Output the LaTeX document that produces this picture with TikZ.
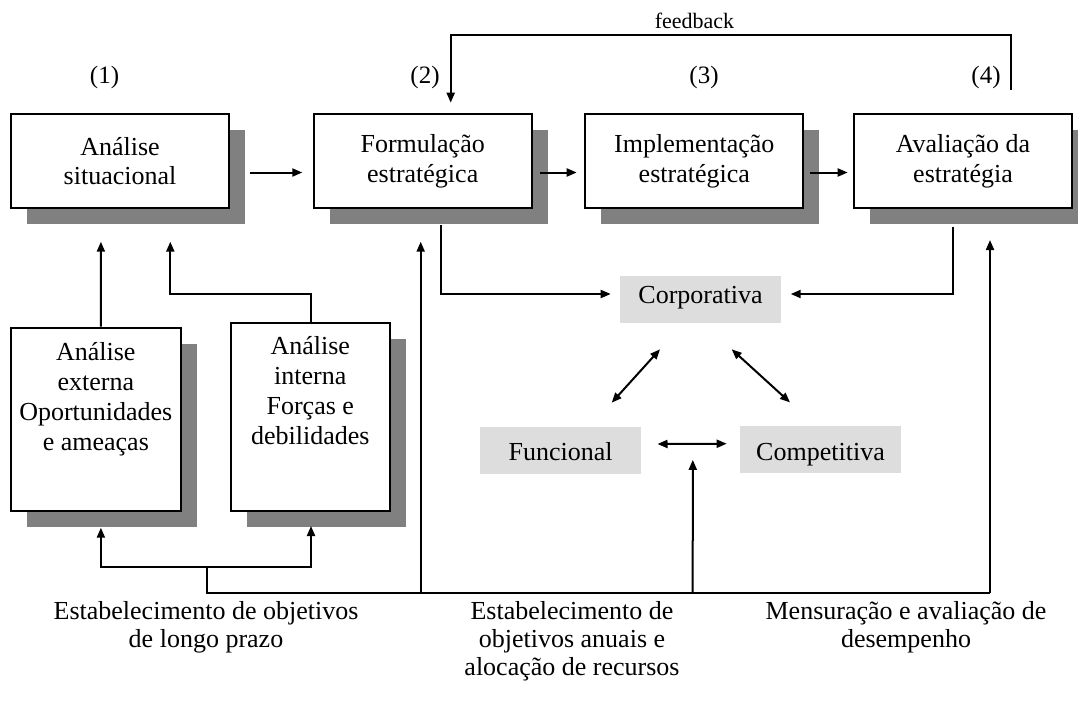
\documentclass[tikz,border=0pt]{standalone}
\usepackage{fontspec}
\setmainfont{Liberation Serif}
\usetikzlibrary{arrows.meta,shadows,calc}
\definecolor{shadowgray}{HTML}{808080}
\definecolor{lightbox}{HTML}{DDDDDD}
\begin{document}
\begin{tikzpicture}[x=1pt,y=-1pt,
  box/.style={draw, line width=2pt, fill=white, inner sep=0pt, align=center,
    font=\fontsize{26}{29.5}\selectfont,
    general shadow={fill=shadowgray, shadow xshift=16pt, shadow yshift=-16pt}},
  mainbox/.style={box, minimum width=218pt, minimum height=94pt},
  gbox/.style={fill=lightbox, inner sep=0pt, minimum width=161pt, minimum height=47pt,
    font=\fontsize{26}{29.5}\selectfont},
  gtop/.style={gbox, text height=17pt, text depth=9.8pt},
  glow/.style={gbox, text height=27pt, text depth=5.6pt},
  txt/.style={inner sep=0pt, align=center, font=\fontsize{26}{30}\selectfont},
  lbl/.style={inner sep=0pt, align=center, font=\fontsize{25}{28}\selectfont},
  arr/.style={line width=2pt, -{Triangle[length=10pt,width=8pt]}},
  dbl/.style={line width=2pt, {Triangle[length=10pt,width=8pt]}-{Triangle[length=10pt,width=8pt]}},
  ln/.style={line width=2pt}]
\useasboundingbox (0,0) rectangle (1078,705);
\clip (0,0) rectangle (1078,705);

% main boxes
\node[mainbox] (b1) at (120,161.2) {Análise\\situacional};
\node[mainbox] (b2) at (422.7,161.2) {Formulação\\estratégica};
\node[mainbox] (b3) at (694.3,161.2) {Implementação\\estratégica};
\node[mainbox] (b4) at (963,161.2) {Avaliação da\\estratégia};

% lower boxes
\node[box, minimum width=169.7pt, minimum height=183pt] (bA) at (95.8,419.2) {};
\node[txt] (tA) at (95.8,399) {Análise\\externa\\Oportunidades\\e ameaças};
\node[box, minimum width=158.7pt, minimum height=188pt] (bB) at (310.3,416.7) {};
\node[txt] (tB) at (310.3,391) {Análise\\interna\\Forças e\\debilidades};

% grey boxes
\node[gtop] (corp) at (700.5,299.7) {Corporativa};
\node[glow] (fun) at (560.7,450) {Funcional};
\node[glow] (comp) at (820.5,449.7) {Competitiva};

% labels
\node[lbl] (l1) at (104.5,77) {(1)};
\node[lbl] (l2) at (425,77) {(2)};
\node[lbl] (l3) at (704,77) {(3)};
\node[lbl] (l4) at (986,77) {(4)};
\node[inner sep=0pt, font=\fontsize{22}{26}\selectfont] (fb) at (694.5,21) {feedback};

% bottom texts
\node[txt, font=\fontsize{26}{28}\selectfont] (s1) at (206,627) {Estabelecimento de objetivos\\de longo prazo};
\node[txt, font=\fontsize{26}{28}\selectfont] (s2) at (572,641) {Estabelecimento de\\objetivos anuais e\\alocação de recursos};
\node[txt, font=\fontsize{26}{28}\selectfont] (s3) at (906,627) {Mensuração e avaliação de\\desempenho};

% horizontal flow
\draw[arr] ($(b1.east)+(19.7,11.3)$) -- ($(b2.west)+(-10.4,11.3)$);
\draw[arr] ($(b2.east)+(7.3,11.3)$) -- ($(b3.west)+(-7.6,11.3)$);
\draw[arr] ($(b3.east)+(5.7,11.3)$) -- ($(b4.west)+(-5.3,11.3)$);

% feedback
\draw[arr] ($(b4.north)+(47.7,-23.3)$) -- ++(0,-54.9) -| ($(b2.north)+(28,-10.5)$);

% analyses to situational analysis
\draw[arr] ($(bA.north)+(5.1,0)$) -- ($(b1.south)+(-19.1,32.5)$);
\draw[arr] ($(bB.north)+(0.7,0)$) -- ++(0,-27.7) -| ($(b1.south)+(50.3,32.5)$);

% to corporativa
\draw[arr] ($(b2.south)+(18.5,15.8)$) |- ($(corp.west)+(-9.1,-5.7)$);
\draw[arr] ($(b4.south)+(-10.3,17.5)$) |- ($(corp.east)+(9.5,-5.7)$);

% triangle of levels
\draw[dbl] ($(corp.south)+(-40.5,25.9)$) -- ($(fun.north)+(51,-23.6)$);
\draw[dbl] ($(corp.south)+(31.2,25.9)$) -- ($(comp.north)+(-30.5,-23.6)$);
\draw[dbl] ($(fun.east)+(16.1,-6)$) -- ($(comp.west)+(-13.1,-6)$);

% bottom network
\coordinate (j1) at (206.7,566.7);
\coordinate (j2) at (206.7,593.3);
\coordinate (jF) at (420.7,593.3);
\coordinate (jM) at (692.7,593.3);
\coordinate (jR) at (990,593.3);
\draw[arr] (j1) -| ($(bA.south)+(5.1,16)$);
\draw[arr] (j1) -| ($(bB.south)+(0.7,14.3)$);
\draw[ln] (j1) -- (j2) -- (jR);
\draw[arr] (jF) -- ($(b2.south)+(-2,32.5)$);
\draw[arr] (jM) -- ($(fun.east)!0.5!(comp.west)+(2.2,10)$);
\draw[arr] (jR) -- ($(b4.south)+(27,30.8)$);
\end{tikzpicture}
\end{document}
